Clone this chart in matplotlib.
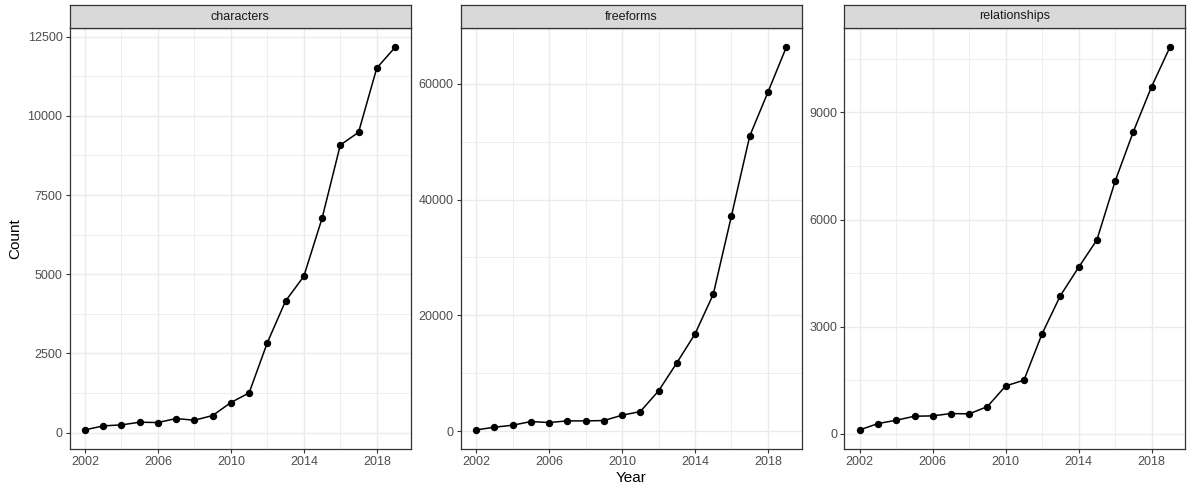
import matplotlib
matplotlib.use("Agg")
import matplotlib.pyplot as plt
from matplotlib.ticker import MultipleLocator, FixedLocator

plt.rcParams['font.family'] = ['Liberation Sans', 'DejaVu Sans']

years = list(range(2002, 2020))
facets = ["characters", "freeforms", "relationships"]
characters = [84, 210, 242, 326, 316, 442, 389, 537, 947, 1252,
              2841, 4156, 4935, 6766, 9080, 9480, 11511, 12163]
freeforms = [230, 690, 1035, 1668, 1496, 1783, 1783, 1841, 2761, 3394,
             6961, 11793, 16798, 23644, 37220, 50969, 58563, 66272]
relationships = [112, 289, 382, 494, 504, 569, 560, 765, 1343, 1502,
                 2807, 3870, 4663, 5428, 7070, 8460, 9718, 10819]
series = [characters, freeforms, relationships]
y_major = [2500, 20000, 3000]
x_major = [2002, 2006, 2010, 2014, 2018]

W, H = 1188, 488
fig = plt.figure(figsize=(W / 100, H / 100), dpi=100)
fig.patch.set_facecolor("white")

lefts = [69.5, 460.7, 844.3]
width = 341.0
bottom_px, top_px, strip_px = 449, 28.3, 23.6

grid_col = "#ebebeb"
for i, (name, vals, step) in enumerate(zip(facets, series, y_major)):
    ax = fig.add_axes([lefts[i] / W, 1 - bottom_px / H, width / W, (bottom_px - top_px) / H])
    ax.plot(years, vals, color="black", lw=1.1, zorder=3)
    ax.plot(years, vals, "o", color="black", ms=4.3, zorder=4)
    span_x = years[-1] - years[0]
    ax.set_xlim(years[0] - 0.05 * span_x, years[-1] + 0.05 * span_x)
    lo, hi = min(vals), max(vals)
    span_y = hi - lo
    ax.set_ylim(lo - 0.05 * span_y, hi + 0.05 * span_y)
    ax.xaxis.set_major_locator(FixedLocator(x_major))
    ax.xaxis.set_minor_locator(MultipleLocator(2))
    ax.yaxis.set_major_locator(MultipleLocator(step))
    ax.yaxis.set_minor_locator(MultipleLocator(step / 2))
    ax.grid(which="major", color=grid_col, lw=1.0, zorder=0)
    ax.grid(which="minor", color=grid_col, lw=0.6, zorder=0)
    ax.set_axisbelow(True)
    for s in ax.spines.values():
        s.set_color("#333333")
        s.set_linewidth(0.9)
    ax.tick_params(which="major", length=3, width=0.8, color="#333333",
                   labelsize=9, labelcolor="#4d4d4d", pad=2)
    ax.tick_params(which="minor", length=0)
    # facet strip
    sax = fig.add_axes([lefts[i] / W, 1 - top_px / H, width / W, strip_px / H])
    sax.set_facecolor("#d9d9d9")
    sax.set_xticks([])
    sax.set_yticks([])
    for s in sax.spines.values():
        s.set_color("#333333")
        s.set_linewidth(0.9)
    sax.text(0.5, 0.5, name, ha="center", va="center", fontsize=9,
             color="#1a1a1a", transform=sax.transAxes)
    if i == 0:
        ax.set_ylabel("Count", fontsize=11, labelpad=4)

fig.text((lefts[1] + width / 2) / W, 1 - 478 / H, "Year", ha="center",
         va="center", fontsize=11)

fig.savefig("out.png", dpi=100)
